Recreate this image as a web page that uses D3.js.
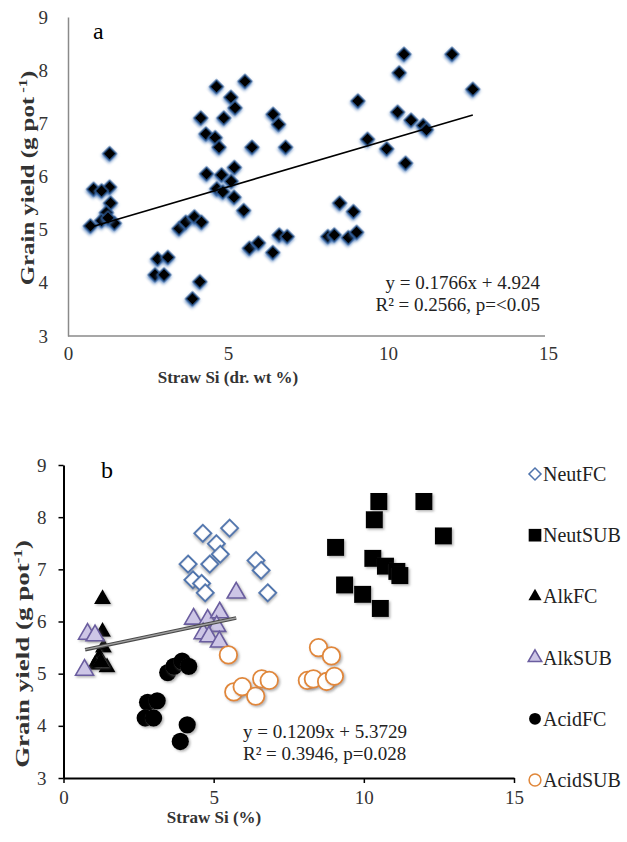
<!DOCTYPE html>
<html>
<head>
<meta charset="utf-8">
<script src="https://cdn.jsdelivr.net/npm/d3@7"></script>
<style>
  body { margin: 0; background: #fff; }
  text { font-family: "Liberation Serif", "Times New Roman", serif; }
</style>
</head>
<body>
<div id="chart"></div>
<script>
// straw Si (%) and grain yield (g/pot), one array per treatment
var neutFC = [[4.64,7.69],[5.53,7.79],[5.09,7.49],[5.22,7.29],[4.15,7.1],[4.87,7.1],[6.41,7.17],[6.58,6.98],[4.31,6.8],[4.6,6.73],[4.72,6.55],[6.8,6.55]];
var neutSUB = [[10.5,8.3],[12.0,8.3],[10.35,7.95],[12.65,7.64],[9.06,7.42],[10.3,7.21],[10.72,7.06],[11.1,6.96],[11.2,6.88],[9.36,6.7],[9.96,6.52],[10.55,6.25]];
var alkFC = [[1.3,6.43],[1.3,5.8],[1.33,5.5],[1.2,5.32],[1.05,5.17],[1.45,5.12],[1.25,5.22]];
var alkSUB = [[0.8,5.76],[1.05,5.73],[0.7,5.07],[4.33,6.05],[4.8,6.03],[5.2,6.17],[5.1,5.91],[4.65,5.77],[4.84,5.71],[5.19,5.61],[5.75,6.55]];
var acidFC = [[3.47,5.02],[3.68,5.14],[3.95,5.24],[4.17,5.14],[2.8,4.45],[3.12,4.48],[2.72,4.15],[3.0,4.15],[4.12,4.02],[3.89,3.7]];
var acidSUB = [[5.49,5.36],[5.67,4.65],[5.95,4.75],[6.4,4.57],[6.6,4.9],[6.85,4.87],[8.49,5.5],[8.92,5.34],[8.12,4.87],[8.32,4.9],[8.76,4.85],[9.02,4.95]];

var seriesNames = ["NeutFC", "NeutSUB", "AlkFC", "AlkSUB", "AcidFC", "AcidSUB"];
var xTicks = [0, 5, 10, 15];
var yTicks = [3, 4, 5, 6, 7, 8, 9];

// regression lines: slope, intercept, x range
var fitA = {m: 0.1766, b: 4.924, x0: 0.67, x1: 12.65};
var fitB = {m: 0.1209, b: 5.3729, x0: 0.72, x1: 5.75};

var svg = d3.select("#chart").append("svg")
    .attr("width", 627)
    .attr("height", 842);

var defs = svg.append("defs");
defs.append("filter").attr("id", "glow")
    .attr("x", "-50%").attr("y", "-50%").attr("width", "200%").attr("height", "200%")
    .append("feDropShadow")
    .attr("dx", 1).attr("dy", 1.5).attr("stdDeviation", 1.6)
    .attr("flood-color", "#3f72b5").attr("flood-opacity", 0.9);
defs.append("filter").attr("id", "shadow")
    .attr("x", "-50%").attr("y", "-50%").attr("width", "200%").attr("height", "200%")
    .append("feDropShadow")
    .attr("dx", 1.5).attr("dy", 1.5).attr("stdDeviation", 1)
    .attr("flood-color", "#777").attr("flood-opacity", 0.55);

var fmt = d3.format("d");

// ---------- chart a ----------
var xa = d3.scaleLinear().domain([0, 15]).range([68, 548]);
var ya = d3.scaleLinear().domain([3, 9]).range([336, 17]);

var gA = svg.append("g");

gA.append("g")
    .attr("transform", "translate(0,336)")
    .call(d3.axisBottom(xa).tickValues(xTicks).tickFormat(fmt).tickSize(0).tickPadding(11))
    .call(g => g.select(".domain").attr("stroke", "#8a8a8a").attr("stroke-width", 1.5).attr("d", "M68,0H545"));
gA.append("g")
    .attr("transform", "translate(68,0)")
    .call(d3.axisLeft(ya).tickValues(yTicks).tickFormat(fmt).tickSize(0).tickPadding(20))
    .call(g => g.select(".domain").attr("stroke", "#8a8a8a").attr("stroke-width", 1.5));

gA.selectAll(".tick text")
    .attr("font-family", "Liberation Serif")
    .attr("font-size", 19)
    .attr("fill", "#333");

var allPoints = neutFC.concat(neutSUB, alkFC, alkSUB, acidFC, acidSUB);

gA.selectAll(".dA")
    .data(allPoints)
    .enter().append("path")
    .attr("class", "dA")
    .attr("d", d3.symbol().type(d3.symbolSquare).size(95))
    .attr("transform", d => `translate(${xa(d[0])},${ya(d[1])}) rotate(45)`)
    .attr("fill", "#000")
    .attr("stroke", "#2c5b96")
    .attr("stroke-width", 1.2)
    .attr("filter", "url(#glow)");

gA.append("line")
    .attr("x1", xa(fitA.x0)).attr("y1", ya(fitA.m * fitA.x0 + fitA.b))
    .attr("x2", xa(fitA.x1)).attr("y2", ya(fitA.m * fitA.x1 + fitA.b))
    .attr("stroke", "#000").attr("stroke-width", 1.6);

gA.append("text").attr("x", 93).attr("y", 39).attr("font-size", 24).text("a");

gA.append("text").attr("x", 540).attr("y", 289).attr("text-anchor", "end")
    .attr("font-size", 19).attr("fill", "#222").text("y = 0.1766x + 4.924");
gA.append("text").attr("x", 540).attr("y", 311).attr("text-anchor", "end")
    .attr("font-size", 19).attr("fill", "#222").text("R² = 0.2566, p=<0.05");

gA.append("text").attr("x", 228).attr("y", 383).attr("text-anchor", "middle")
    .attr("font-size", 17).attr("font-weight", "bold").attr("fill", "#333")
    .text("Straw Si (dr. wt %)");

var ylabA = gA.append("text")
    .attr("transform", "translate(34,178) rotate(-90) scale(1.38,1)")
    .attr("text-anchor", "middle")
    .attr("font-size", 18).attr("font-weight", "bold").attr("fill", "#333");
ylabA.append("tspan").text("Grain yield (g pot");
ylabA.append("tspan").attr("font-size", 12).attr("dy", -7).text(" -1");
ylabA.append("tspan").attr("dy", 7).text(")");

// ---------- chart b ----------
var xb = d3.scaleLinear().domain([0, 15]).range([63.5, 514]);
var yb = d3.scaleLinear().domain([3, 9]).range([778, 465]);

var gB = svg.append("g");

gB.append("g")
    .attr("transform", "translate(0,778)")
    .call(d3.axisBottom(xb).tickValues(xTicks).tickFormat(fmt).tickSizeInner(5).tickSizeOuter(0).tickPadding(8))
    .call(g => g.select(".domain").attr("stroke-width", 2))
    .call(g => g.selectAll(".tick line").attr("stroke-width", 1.5));
gB.append("g")
    .attr("transform", "translate(63.5,0)")
    .call(d3.axisLeft(yb).tickValues(yTicks).tickFormat(fmt).tickSizeInner(5).tickSizeOuter(0).tickPadding(12))
    .call(g => g.select(".domain").attr("stroke-width", 2))
    .call(g => g.selectAll(".tick line").attr("stroke-width", 1.5));

gB.selectAll(".tick text")
    .attr("font-family", "Liberation Serif")
    .attr("font-size", 19)
    .attr("fill", "#333");

var styles = {
    NeutFC: {type: d3.symbolSquare, size: 140, rot: 45, fill: "#fff", stroke: "#4f74ad", sw: 2},
    NeutSUB: {type: d3.symbolSquare, size: 290, rot: 0, fill: "#000", stroke: "none", sw: 0},
    AlkFC: {type: d3.symbolTriangle, size: 125, rot: 0, fill: "#000", stroke: "none", sw: 0},
    AlkSUB: {type: d3.symbolTriangle, size: 140, rot: 0, fill: "#cdc6e6", stroke: "#6a5d9f", sw: 1.6},
    AcidFC: {type: d3.symbolCircle, size: 235, rot: 0, fill: "#000", stroke: "none", sw: 0},
    AcidSUB: {type: d3.symbolCircle, size: 240, rot: 0, fill: "#fff", stroke: "#e0873a", sw: 1.8}
};
var groups = [neutFC, neutSUB, alkFC, alkSUB, acidFC, acidSUB];

seriesNames.forEach(function (name, i) {
    var s = styles[name];
    gB.selectAll(".s" + i)
        .data(groups[i])
        .enter().append("path")
        .attr("class", "s" + i)
        .attr("d", d3.symbol().type(s.type).size(s.size))
        .attr("transform", d => `translate(${xb(d[0])},${yb(d[1])}) rotate(${s.rot})`)
        .attr("fill", s.fill)
        .attr("stroke", s.stroke)
        .attr("stroke-width", s.sw)
        .attr("filter", "url(#shadow)");
});

// double-looking grey trend line
[["#4a4a4a", 3.6], ["#a0a0a0", 1.4]].forEach(function (st) {
    gB.append("line")
        .attr("x1", xb(fitB.x0)).attr("y1", yb(fitB.m * fitB.x0 + fitB.b))
        .attr("x2", xb(fitB.x1)).attr("y2", yb(fitB.m * fitB.x1 + fitB.b))
        .attr("stroke", st[0]).attr("stroke-width", st[1]);
});

gB.append("text").attr("x", 101).attr("y", 478).attr("font-size", 24).text("b");

gB.append("text").attr("x", 243).attr("y", 738)
    .attr("font-size", 19).attr("fill", "#222").text("y = 0.1209x + 5.3729");
gB.append("text").attr("x", 243).attr("y", 760)
    .attr("font-size", 19).attr("fill", "#222").text("R² = 0.3946, p=0.028");

gB.append("text").attr("x", 214).attr("y", 823).attr("text-anchor", "middle")
    .attr("font-size", 17).attr("font-weight", "bold").attr("fill", "#333")
    .text("Straw Si (%)");

var ylabB = gB.append("text")
    .attr("transform", "translate(29,654) rotate(-90) scale(1.42,1)")
    .attr("text-anchor", "middle")
    .attr("font-size", 19).attr("font-weight", "bold").attr("fill", "#333");
ylabB.append("tspan").text("Grain yield (g pot");
ylabB.append("tspan").attr("font-size", 12).attr("dy", -7).text("-1");
ylabB.append("tspan").attr("dy", 7).text(")");

// legend
var legend = gB.selectAll(".legend")
    .data(seriesNames)
    .enter().append("g")
    .attr("class", "legend")
    .attr("transform", (d, i) => `translate(535,${474 + i * 61.2})`);

var legendScale = {NeutFC: 72, NeutSUB: 160, AlkFC: 75, AlkSUB: 80, AcidFC: 110, AcidSUB: 110};
legend.append("path")
    .attr("d", d => d3.symbol().type(styles[d].type).size(legendScale[d])())
    .attr("transform", d => `rotate(${styles[d].rot})`)
    .attr("fill", d => styles[d].fill)
    .attr("stroke", d => styles[d].stroke)
    .attr("stroke-width", d => styles[d].sw ? 1.5 : 0);

legend.append("text")
    .attr("x", 8).attr("y", 7)
    .attr("font-size", 20).attr("fill", "#222")
    .text(d => d);
</script>
</body>
</html>
